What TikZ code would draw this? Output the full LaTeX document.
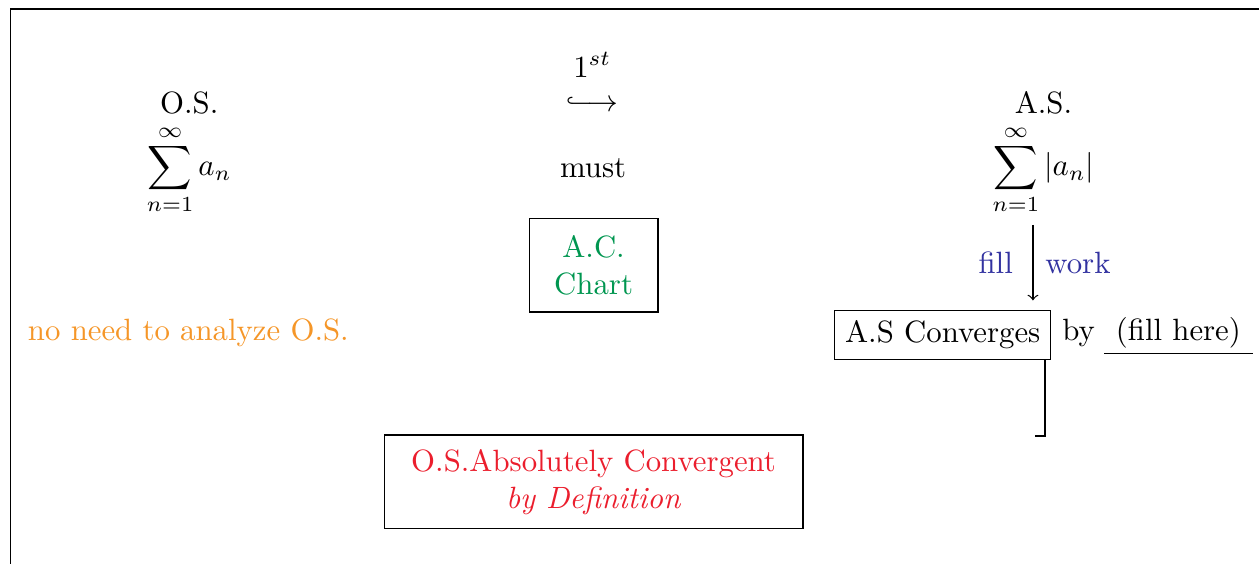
\documentclass[tikz,border=0pt]{standalone}
\usepackage{amsmath}
\usepackage{tikz}
\usetikzlibrary{arrows,positioning}
\definecolor{acgreen}{RGB}{0,150,80}
\definecolor{osorange}{RGB}{245,150,40}
\definecolor{defred}{RGB}{235,30,45}
\definecolor{workblue}{RGB}{50,50,160}
\tikzset{
    plain_txt/.style = {align=center, inner sep=2pt, text centered},
    head_txt/.style = {plain_txt, anchor=base, inner sep=0pt},
    box_txt/.style = {plain_txt, rectangle, draw=black, inner sep=0.333em},
    box_chart/.style = {box_txt, acgreen, draw=black, minimum width=1.47cm, minimum height=1.07cm},
    box_def/.style = {box_txt, defred, draw=black, minimum width=4.78cm, minimum height=1.07cm},
    blank_line/.style = {plain_txt, inner ysep=1.5pt, minimum width=1.68cm}
}
\begin{document}
\begin{tikzpicture}
    \useasboundingbox (0,0) rectangle (14.37,-6.43);
    % outer frame, only top and left are visible
    \draw (14.5,-0.103) -- (0.12,-0.103) -- (0.12,-6.6);

    % left column
    \node [head_txt] (os) at (2.16,-1.29) {O.S.};
    \node [plain_txt, inner sep=0pt] (ossum) at (2.16,-1.94) {$\displaystyle\sum_{n=1}^{\infty} a_n$};
    \node [plain_txt, osorange] (noneed) at (2.15,-3.80) {no need to analyze O.S.};

    % middle column
    \node [plain_txt] (first) at (6.76,-0.74) {$1^{st}$};
    \node [plain_txt] (hook) at (6.76,-1.19) {$\lhook\joinrel\longrightarrow$};
    \node [plain_txt] (must) at (6.77,-1.92) {must};
    \node [box_chart] (chart) at (6.775,-3.025) {A.C.\\Chart};
    \node [box_def] (absdef) at (6.775,-5.50) {O.S.Absolutely Convergent\\\textit{by Definition}};

    % right column
    \node [head_txt] (as) at (11.91,-1.29) {A.S.};
    \node [plain_txt, inner sep=0pt] (assum) at (11.91,-1.94) {$\displaystyle\sum_{n=1}^{\infty} |a_n|$};
    \node [box_txt] (asconv) at (10.76,-3.82) {A.S Converges};
    \node [plain_txt] (by) at (12.31,-3.80) {by};
    \node [blank_line] (fillhere) at (13.45,-3.80) {(fill here)};
    \coordinate (arr) at (11.79,0);

    \draw [->, shorten <=3pt, shorten >=3pt] (assum.south -| arr) -- (asconv.north -| arr)
        node [midway, left=3pt, workblue] {fill}
        node [midway, right=0.5pt, workblue] {work};
    \draw (fillhere.south west) -- (fillhere.south east);
    \draw [thick] ([xshift=-0.07cm]asconv.south east) -- ++(0,-0.87) -- ++(-0.11,0);
\end{tikzpicture}
\end{document}
